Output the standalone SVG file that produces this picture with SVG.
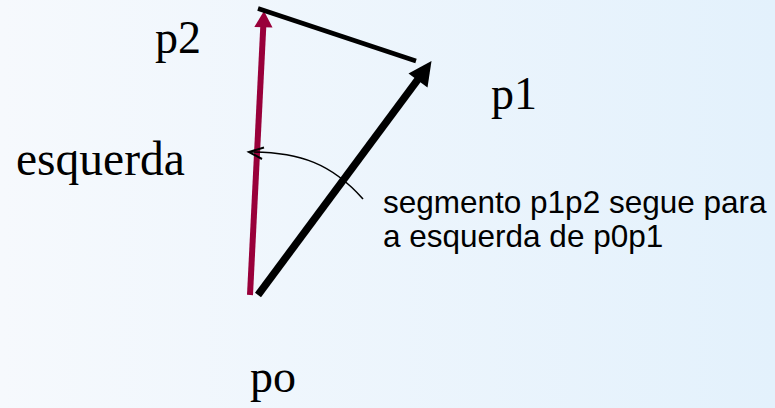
<svg xmlns="http://www.w3.org/2000/svg" width="775" height="408" viewBox="0 0 775 408">
  <defs>
    <linearGradient id="bg" x1="0" y1="0" x2="1" y2="0">
      <stop offset="0" stop-color="#f6f9fd"/>
      <stop offset="1" stop-color="#e3f1fc"/>
    </linearGradient>
    <style>
      .serif { font-family: "Liberation Serif", "Times New Roman", serif; font-size: 46px; fill: #000; }
      .sans { font-family: "Liberation Sans", Arial, sans-serif; font-size: 31.5px; fill: #000; }
    </style>
  </defs>
  <rect x="0" y="0" width="775" height="408" fill="url(#bg)"/>

  <g id="connectors">
    <g id="vec-p0p2">
      <line x1="250" y1="295" x2="263.3" y2="26" stroke="#99003a" stroke-width="6"/>
      <polygon points="264,11 254.3,27 272.5,27.5" fill="#99003a"/>
    </g>
    <line id="seg-p1p2" x1="258" y1="8.5" x2="416" y2="61" stroke="#000" stroke-width="4.5"/>
    <g id="vec-p0p1">
      <line x1="258" y1="295" x2="419" y2="78" stroke="#000" stroke-width="7.5"/>
      <polygon points="431.5,61 408.5,73.5 427.5,87.5" fill="#000"/>
    </g>
    <g id="callout">
      <path d="M363,199 C332,164 300,152 251,152" fill="none" stroke="#000" stroke-width="1.6"/>
      <path d="M264,147.5 L249,152 L262,159" fill="none" stroke="#000" stroke-width="2"/>
    </g>
  </g>

  <g id="label-p2"><text class="serif" x="155" y="53">p2</text></g>
  <g id="label-p1"><text class="serif" x="491" y="109">p1</text></g>
  <g id="label-esquerda"><text class="serif" x="16" y="175" style="font-size:47.5px">esquerda</text></g>
  <g id="label-po"><text class="serif" x="250" y="392">po</text></g>
  <g id="note">
    <text class="sans" x="383" y="213">segmento p1p2 segue para</text>
    <text class="sans" x="383" y="247">a esquerda de p0p1</text>
  </g>
</svg>
